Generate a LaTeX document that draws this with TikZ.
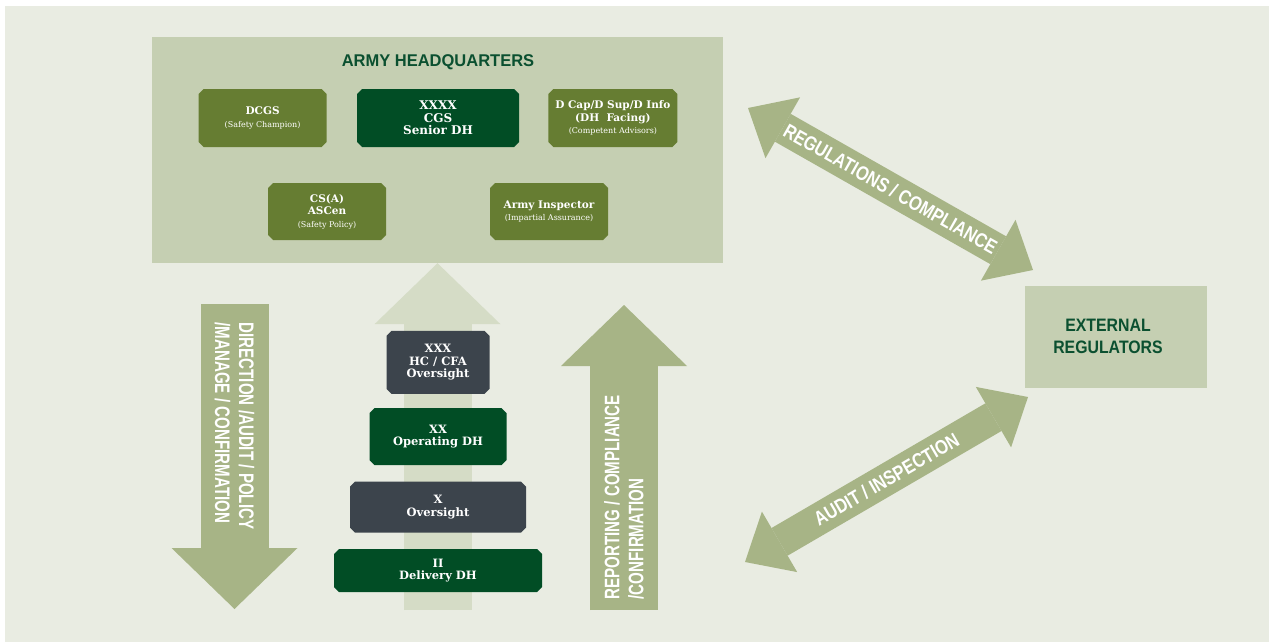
\documentclass[tikz,border=0pt]{standalone}
\usepackage{fontspec}
\usepackage{tikz}
\usetikzlibrary{arrows.meta}
\usetikzlibrary{positioning}
\usetikzlibrary{shapes.misc}

\newfontfamily\slabfont{DejaVu Serif}
\newfontfamily\headfont[FakeStretch=0.97]{Liberation Sans}
\newfontfamily\extfont[FakeStretch=0.88]{Liberation Sans}
\newfontfamily\condfont[FakeStretch=0.72]{Liberation Sans}
\newfontfamily\diagfont[FakeStretch=0.82]{Liberation Sans}
\newcommand{\subnote}[1]{{\fontsize{8}{9.5}\selectfont\mdseries #1}}

\definecolor{pagebg}{HTML}{E9ECE2}
\definecolor{framegreen}{HTML}{C5CFB2}
\definecolor{olivegreen}{HTML}{667D32}
\definecolor{darkgreen}{HTML}{014D25}
\definecolor{slategrey}{HTML}{3C444C}
\definecolor{arrowgreen}{HTML}{A7B486}
\definecolor{palegreen}{HTML}{D5DCC6}
\definecolor{titlegreen}{HTML}{0B5030}

\tikzset{%
	% Arrow heads for the wide arrows
	bigHead/.tip = {Triangle[width=126pt, length=61pt, line width=0pt 0 0]},
	midHead/.tip = {Triangle[width=70pt, length=40pt, line width=0pt 0 0]},
	% Specifications for style of nodes:
	hqframe/.style = {rectangle, fill=framegreen, inner sep=0pt},
	unit/.style = {chamfered rectangle, chamfered rectangle sep=2.5pt,
				   minimum height=58pt, inner sep=2pt, align=center,
				   text=white, font=\slabfont\bfseries\fontsize{10.5}{12.5}\selectfont},
	oliveunit/.style = {unit, fill=olivegreen},
	darkunit/.style = {unit, fill=darkgreen},
	stackunit/.style = {unit, font=\slabfont\bfseries\fontsize{11.5}{12.5}\selectfont},
	stackdark/.style = {stackunit, fill=darkgreen},
	stackslate/.style = {stackunit, fill=slategrey},
	titletext/.style = {text=titlegreen, font=\headfont\bfseries\fontsize{17}{20}\selectfont},
	exttext/.style = {text=titlegreen, align=center,
					  font=\extfont\bfseries\fontsize{18}{22}\selectfont},
	arrowtext/.style = {text=white, align=left, inner sep=0pt,
						font=\condfont\bfseries\fontsize{21}{24}\selectfont},
	diagtext/.style = {text=white, inner sep=0pt,
					   font=\diagfont\bfseries\fontsize{20}{24}\selectfont},
	% Wide arrows
	fatArrow/.style = {draw=arrowgreen, line width=68pt, -bigHead},
	paleArrow/.style = {draw=palegreen, line width=68pt, -bigHead},
	linkArrow/.style = {draw=arrowgreen, line width=32pt, midHead-midHead},
}

\begin{document}
\begin{tikzpicture}[x=1pt, y=-1pt]

	\useasboundingbox (0,0) rectangle (1269,642);
	\fill[pagebg] (5,6) rectangle (1269,642);

	% Specification of nodes (position, etc.)

	\node (armyHQ)   [hqframe, minimum width=571pt, minimum height=226pt] at (437.5,150) {};
	\node (hqTitle)  [titletext] at (438,62) {ARMY HEADQUARTERS};
	\node (cgs)      [darkunit, minimum width=162pt,
					  font=\slabfont\bfseries\fontsize{12}{12.5}\selectfont] at (438,118) {XXXX\\CGS\\Senior DH};
	\node (dcgs)     [oliveunit, minimum width=128pt, left=30pt of cgs] {DCGS\\\subnote{(Safety Champion)}};
	\node (dCap)     [oliveunit, minimum width=129pt, right=29pt of cgs] {D Cap/D Sup/D Info\\(DH\ \ Facing)\\\subnote{(Competent Advisors)}};
	\node (csa)      [oliveunit, minimum width=118pt, minimum height=57pt] at (327,211.5) {CS(A)\\ASCen\\\subnote{(Safety Policy)}};
	\node (armyInsp) [oliveunit, minimum width=118pt, minimum height=57pt] at (549,211.5) {Army Inspector\\\subnote{(Impartial Assurance)}};

	\node (extReg)   [hqframe, minimum width=182pt, minimum height=102pt] at (1116,337) {};
	\node (extTitle) [exttext] at (1108,336) {EXTERNAL\\REGULATORS};

	% End points of the wide arrows
	\coordinate (directTop)  at (234.5,304);
	\coordinate (directTip)  at (234.5,609);
	\coordinate (stackBase)  at (437.5,610);
	\coordinate (reportBase) at (624,610);
	\coordinate (reportTip)  at (624,305);
	\coordinate (regHQ)      at (748,108);
	\coordinate (regExt)     at (1033,270);
	\coordinate (auditHQ)    at (745,562);
	\coordinate (auditExt)   at (1028,397);

	\draw[paleArrow] (stackBase) -- (armyHQ.south);

	% Chain of command, bottom up
	\node (deliveryDH) [stackdark, minimum width=208pt, minimum height=43pt] at (438,570.5) {II\\Delivery DH};
	\node (brigadeOvs) [stackslate, minimum width=176pt, minimum height=51pt, above=16pt of deliveryDH] {X\\Oversight};
	\node (operatingDH)[stackdark, minimum width=137pt, minimum height=57pt, above=16pt of brigadeOvs] {XX\\Operating DH};
	\node (corpsOvs)   [stackslate, minimum width=103pt, minimum height=63pt, above=14pt of operatingDH] {XXX\\HC / CFA\\Oversight};

	% Wide arrows with their texts
	\draw[fatArrow] (directTop) -- node[pos=0.4, rotate=-90, arrowtext] {DIRECTION /AUDIT / POLICY\\/MANAGE / CONFIRMATION} (directTip);
	\draw[fatArrow] (reportBase) -- node[pos=0.37, rotate=90, arrowtext] {REPORTING / COMPLIANCE\\/CONFIRMATION} (reportTip);
	\draw[linkArrow] (regHQ) -- node[sloped, diagtext] {REGULATIONS / COMPLIANCE} (regExt);
	\draw[linkArrow] (auditHQ) -- node[sloped, diagtext] {AUDIT / INSPECTION} (auditExt);

\end{tikzpicture}
\end{document}
